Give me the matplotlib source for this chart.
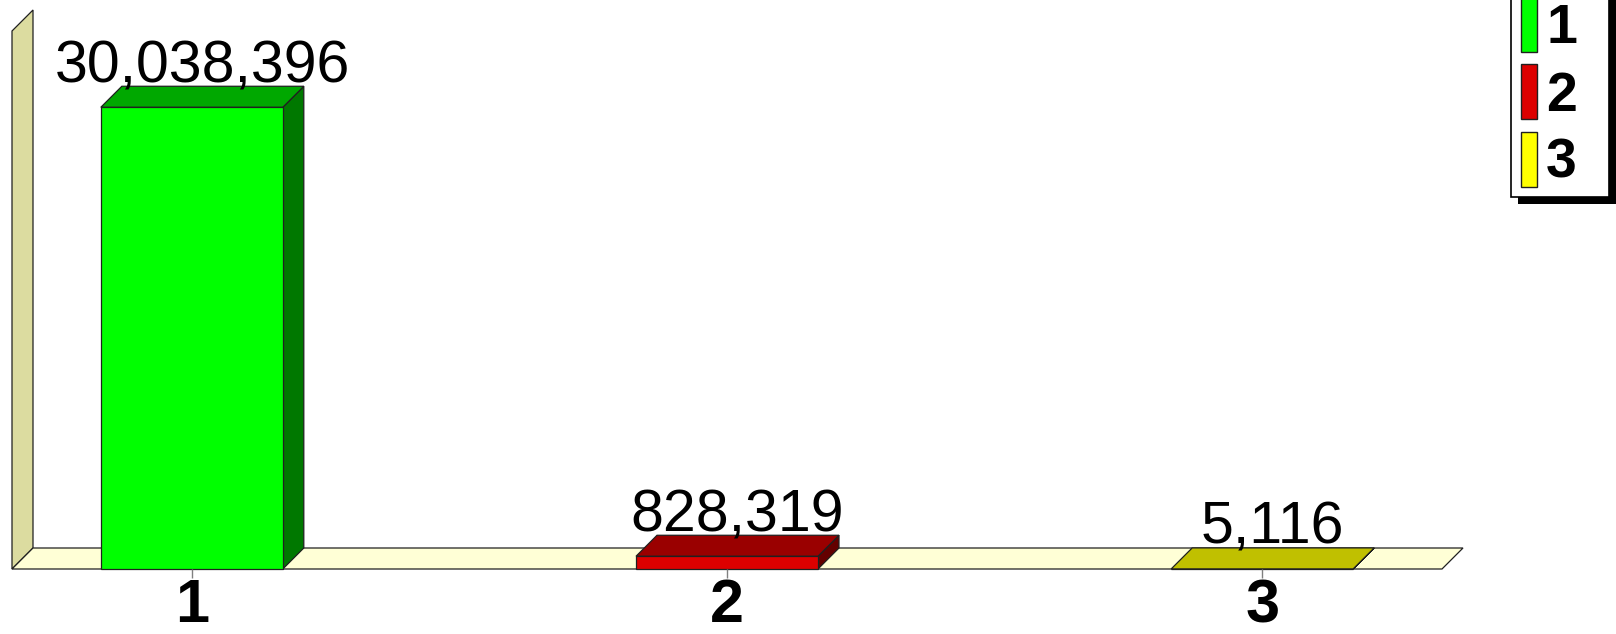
import matplotlib.pyplot as plt
from matplotlib.patches import Rectangle, Polygon, Patch

# data
categories = ['1', '2', '3']
values = [30038396, 828319, 5116]
front_colors = ['#00FF00', '#DD0000', '#FFFF00']
top_colors = ['#00A800', '#9A0000', '#C0C000']
side_colors = ['#007800', '#640000', '#8A8A00']

W, H = 1616, 634
fig = plt.figure(figsize=(W / 100, H / 100), dpi=100)
fig.patch.set_facecolor('white')

# axes = front plane of the 3d box (pixels 12..1442 x, 31..569 y)
ax = fig.add_axes([12 / W, (H - 569) / H, (1442 - 12) / W, (569 - 31) / H])
ax.set_facecolor('none')
xmin, xmax = 0.664, 3.336
ymax = 35e6
ax.set_xlim(xmin, xmax)
ax.set_ylim(0, ymax)

# depth of the 3d effect in data units (21 px right, 21 px up)
ax_w = (1442 - 12)
ax_h = (569 - 31)
ddx = 21 * (xmax - xmin) / ax_w
ddy = 21 * ymax / ax_h

edge = dict(edgecolor='#202020', linewidth=0.9, clip_on=False)

# wall and floor
wall = Polygon([(xmin, 0), (xmin, ymax), (xmin + ddx, ymax + ddy), (xmin + ddx, ddy)],
               facecolor='#DCDCA0', **edge)
floor = Polygon([(xmin, 0), (xmax, 0), (xmax + ddx, ddy), (xmin + ddx, ddy)],
                facecolor='#FFFFD6', **edge)
ax.add_patch(wall)
ax.add_patch(floor)

w = 0.34
xs = [1, 2, 3]
for x, v, fc, tc, sc in zip(xs, values, front_colors, top_colors, side_colors):
    l, r = x - w / 2, x + w / 2
    ax.add_patch(Polygon([(r, 0), (r + ddx, ddy), (r + ddx, v + ddy), (r, v)],
                         facecolor=sc, **edge))
    ax.add_patch(Polygon([(l, v), (r, v), (r + ddx, v + ddy), (l + ddx, v + ddy)],
                         facecolor=tc, **edge))
    ax.add_patch(Rectangle((l, 0), w, v, facecolor=fc, **edge))
    ax.annotate(f'{v:,}', xy=(x + ddx / 2, v + ddy), xytext=(0, 3),
                textcoords='offset points', ha='center', va='baseline',
                fontsize=42.5, family='Liberation Sans', annotation_clip=False)

ax.set_xticks(xs)
ax.set_xticklabels(categories, fontsize=44, fontweight='bold', family='Liberation Sans')
ax.tick_params(axis='x', length=6.5, width=1, color='#808080', pad=0)
ax.set_yticks([])
for s in ax.spines.values():
    s.set_visible(False)

# legend box with hard black shadow, top runs off the picture
fig.add_artist(Rectangle((1518, -7 + (H - 197)), 98, 300, transform=None,
                         facecolor='black', edgecolor='none', zorder=4))
fig.add_artist(Rectangle((1511, H - 197), 98, 300, transform=None,
                         facecolor='white', edgecolor='black', linewidth=1.2, zorder=4.5))

handles = [Patch(facecolor=c, edgecolor='#202020') for c in front_colors]
leg = fig.legend(handles, categories, loc='lower left',
                 bbox_to_anchor=(1521 / W, (H - 190) / H),
                 prop={'family': 'Liberation Sans', 'size': 40, 'weight': 'bold'},
                 handlelength=0.29, handleheight=1.15, handletextpad=0.16,
                 borderpad=0, labelspacing=0.16, borderaxespad=0,
                 frameon=False)
leg.set_zorder(5)

plt.savefig('out.png', dpi=100)
